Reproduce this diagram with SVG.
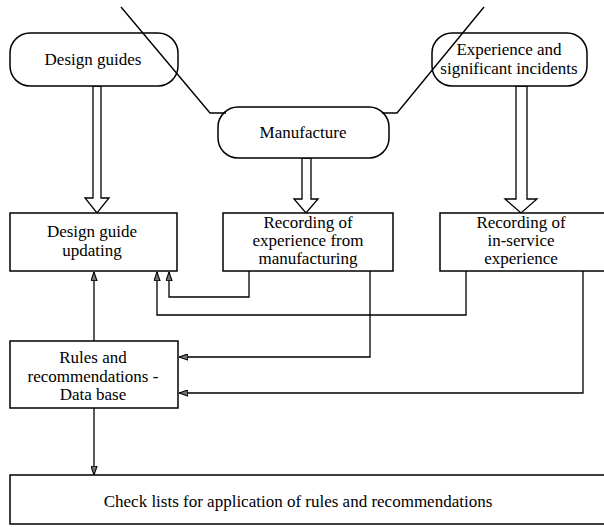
<svg xmlns="http://www.w3.org/2000/svg" width="604" height="527" viewBox="0 0 604 527">
  <style>
    .box { fill: #fff; stroke: #000; stroke-width: 1.5; }
    text { font-family: "Liberation Serif", "Times New Roman", serif; font-size: 17px; fill: #000; text-anchor: middle; }
    .wire { fill: none; stroke: #000; stroke-width: 1.3; }
    .pipe { fill: #fff; stroke: #000; stroke-width: 1.3; }
    .slant { fill: none; stroke: #000; stroke-width: 1.4; }
  </style>
  <defs>
    <marker id="tip" viewBox="0 0 10 8" refX="10" refY="4" markerWidth="9" markerHeight="7" markerUnits="userSpaceOnUse" orient="auto">
      <path d="M0,0.5 L10,4 L0,7.5 Z" fill="#777" stroke="#000" stroke-width="1.2"/>
    </marker>
  </defs>

  <!-- hollow feed arrows from sources to recording boxes -->
  <g id="feeds">
    <path class="pipe" d="M93,86 V198 H85 L97,213 L109,198 H101 V86 Z"/>
    <path class="pipe" d="M302,158 V199 H294 L306,213 L318,199 H311 V158 Z"/>
    <path class="pipe" d="M516,86 V199 H505 L521,213 L537,199 H527 V86 Z"/>
  </g>

  <g id="design-guides">
    <rect class="box" x="10" y="33" width="168" height="53" rx="20" ry="20"/>
    <text x="93" y="65">Design guides</text>
  </g>

  <g id="manufacture">
    <rect class="box" x="218" y="107" width="171" height="51" rx="20" ry="20"/>
    <text x="303" y="138">Manufacture</text>
  </g>

  <g id="experience">
    <rect class="box" x="432" y="33" width="155" height="53" rx="20" ry="20"/>
    <text x="509" y="55">Experience and</text>
    <text x="509" y="74">significant incidents</text>
  </g>

  <!-- slanted guide lines, drawn across the source nodes -->
  <g id="slants">
    <polyline class="slant" points="121,7 210,113 226,113"/>
    <polyline class="slant" points="484,7 397,113 382,113"/>
  </g>

  <g id="design-guide-updating">
    <rect class="box" x="10" y="213" width="167" height="58"/>
    <text x="92" y="237">Design guide</text>
    <text x="92" y="256">updating</text>
  </g>

  <g id="recording-manufacturing">
    <rect class="box" x="223" y="213" width="170" height="58"/>
    <text x="308" y="228">Recording of</text>
    <text x="308" y="246">experience from</text>
    <text x="308" y="264">manufacturing</text>
  </g>

  <g id="recording-in-service">
    <rect class="box" x="440" y="213" width="170" height="58"/>
    <text x="521" y="228">Recording of</text>
    <text x="521" y="246">in-service</text>
    <text x="521" y="264">experience</text>
  </g>

  <g id="rules-database">
    <rect class="box" x="10" y="341" width="168" height="67"/>
    <text x="93" y="363">Rules and</text>
    <text x="93" y="382">recommendations -</text>
    <text x="93" y="400">Data base</text>
  </g>

  <g id="check-lists">
    <rect class="box" x="10" y="475" width="600" height="49"/>
    <text x="298" y="507">Check lists for application of rules and recommendations</text>
  </g>

  <!-- information flow connectors -->
  <g id="connectors">
    <polyline class="wire" points="94,341 94,272" marker-end="url(#tip)"/>
    <polyline class="wire" points="249,271 249,297 169,297 169,272" marker-end="url(#tip)"/>
    <polyline class="wire" points="466,271 466,315 157,315 157,272" marker-end="url(#tip)"/>
    <polyline class="wire" points="370,271 370,357 179,357" marker-end="url(#tip)"/>
    <polyline class="wire" points="583,271 583,393 179,393" marker-end="url(#tip)"/>
    <polyline class="wire" points="94,408 94,475" marker-end="url(#tip)"/>
  </g>
</svg>
